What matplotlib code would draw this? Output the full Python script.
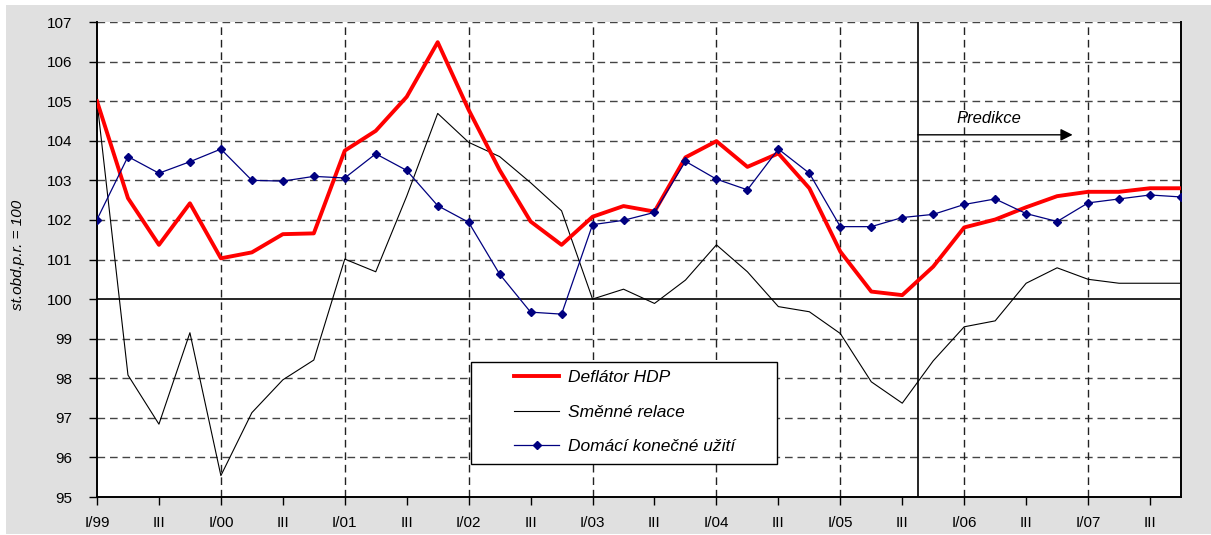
import matplotlib
matplotlib.use('Agg')
import matplotlib.pyplot as plt
from matplotlib.patches import Rectangle

plt.rcParams['font.family'] = ['Liberation Sans', 'DejaVu Sans']

# quarterly data, I/99 .. IV/07
deflator = [105.0, 102.55, 101.37, 102.42, 101.03, 101.18, 101.64, 101.66,
            103.75, 104.25, 105.11, 106.49, 104.78, 103.26, 101.96, 101.37,
            102.08, 102.35, 102.21, 103.58, 103.99, 103.34, 103.68, 102.80,
            101.20, 100.19, 100.10, 100.82, 101.81, 102.01, 102.32, 102.60,
            102.71, 102.71, 102.80, 102.80]
smenne = [105.0, 98.08, 96.84, 99.15, 95.54, 97.13, 97.96, 98.46,
          101.01, 100.69, 102.6, 104.69, 103.96, 103.60, 102.94, 102.23,
          100.0, 100.25, 99.89, 100.48, 101.37, 100.69, 99.81, 99.68,
          99.13, 97.91, 97.37, 98.44, 99.30, 99.45, 100.40, 100.79,
          100.50, 100.40, 100.40, 100.40]
domaci = [102.01, 103.60, 103.18, 103.47, 103.79, 103.0, 102.98, 103.10,
          103.06, 103.67, 103.25, 102.36, 101.94, 100.63, 99.67, 99.62,
          101.88, 101.99, 102.19, 103.48, 103.03, 102.76, 103.79, 103.18,
          101.83, 101.83, 102.06, 102.14, 102.39, 102.53, 102.16, 101.96,
          102.43, 102.53, 102.63, 102.58]
tick_labels = ['I/99', 'III', 'I/00', 'III', 'I/01', 'III', 'I/02', 'III',
               'I/03', 'III', 'I/04', 'III', 'I/05', 'III', 'I/06', 'III',
               'I/07', 'III']
labels = ['Deflátor HDP', 'Směnné relace', 'Domácí konečné užití']

x = list(range(len(deflator)))

fig = plt.figure(figsize=(12.11, 5.35), dpi=100, facecolor='white')
fig.patches.append(Rectangle((6 / 1211, 1 / 535), 1 - 6 / 1211, 1 - 6 / 535,
                             transform=fig.transFigure, facecolor='#e0e0e0',
                             edgecolor='none', zorder=0))
ax = fig.add_axes([97 / 1211, 38 / 535, 1084 / 1211, 475 / 535])
ax.set_zorder(2)
ax.set_facecolor('white')

dash = (0, (5.5, 3.5))
for yv in range(96, 108):
    if yv == 100:
        continue
    ax.axhline(yv, color='#444444', lw=1.0, linestyle=dash, zorder=1)
for xv in range(4, 36, 4):
    ax.axvline(xv, color='#222222', lw=1.0, linestyle=dash, zorder=1)
ax.axhline(100, color='black', lw=1.2, zorder=2)
ax.axvline(26.5, color='black', lw=1.2, zorder=2)

l1, = ax.plot(x, deflator, color='#ff0000', lw=2.8, zorder=4, label=labels[0])
l2, = ax.plot(x, smenne, color='black', lw=0.8, zorder=3, label=labels[1])
l3, = ax.plot(x, domaci, color='#000080', lw=0.9, marker='D', markersize=4.5,
              zorder=5, label=labels[2])

ax.annotate('', xy=(31.5, 104.15), xytext=(26.5, 104.15),
            arrowprops=dict(arrowstyle='-|>', color='black', lw=1.0,
                            mutation_scale=18, shrinkA=0, shrinkB=0))
ax.text(28.8, 104.57, 'Predikce', style='italic', fontsize=12,
        ha='center', va='center')

ax.set_xlim(0, 35)
ax.set_ylim(95, 107)
ax.set_xticks(range(0, 36, 2))
ax.set_xticklabels(tick_labels)
ax.set_yticks(range(95, 108))
ax.tick_params(axis='both', labelsize=11, length=6, width=1, color='black')
ax.tick_params(axis='x', pad=8)
ax.tick_params(axis='y', pad=12)
for s in ['left', 'bottom', 'right']:
    ax.spines[s].set_linewidth(1.4)
ax.spines['top'].set_visible(False)

ax.set_ylabel('st.obd.p.r. = 100', style='italic', fontsize=11)
ax.yaxis.set_label_coords(-0.066, 0.51)

# legend box drawn separately so that its size follows the original
ax.add_patch(Rectangle(((471 - 97) / 1084, (497 - 464) / 475),
                       306 / 1084, 102 / 475, transform=ax.transAxes,
                       facecolor='white', edgecolor='black', lw=1.0,
                       zorder=9))
leg = ax.legend(handles=[l1, l2, l3], loc='upper left',
                bbox_to_anchor=((514 - 97) / 1084, (497 - 370) / 475),
                frameon=False, prop={'style': 'italic', 'size': 12.5},
                handlelength=2.6, labelspacing=1.12, borderpad=0,
                handletextpad=0.5, borderaxespad=0)
leg.set_zorder(10)

fig.savefig('out.png', dpi=100, facecolor=fig.get_facecolor())
